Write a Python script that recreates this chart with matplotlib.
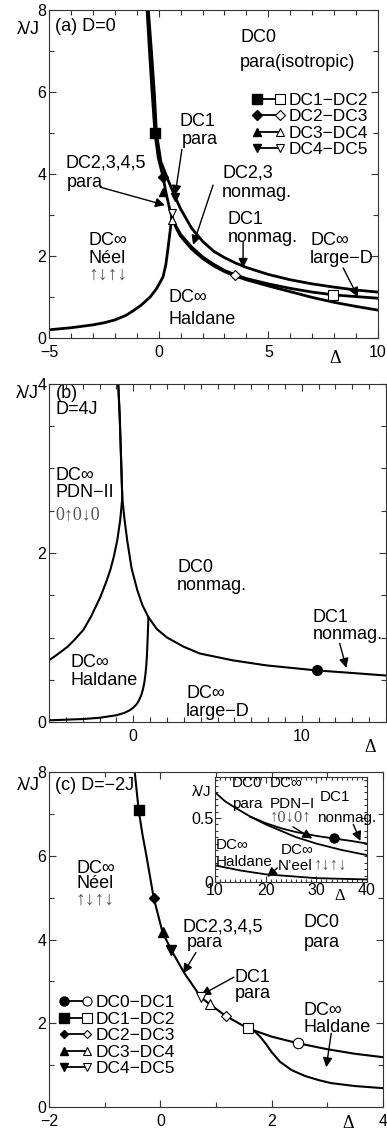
import numpy as np
import matplotlib
matplotlib.use('Agg')
import matplotlib.pyplot as plt
from matplotlib.lines import Line2D
from matplotlib.legend_handler import HandlerBase
from matplotlib.ticker import MultipleLocator, FixedLocator

plt.rcParams['font.family'] = ['Liberation Sans', 'DejaVu Sans']
plt.rcParams['font.size'] = 13
plt.rcParams['axes.linewidth'] = 0.8
plt.rcParams['axes.edgecolor'] = '#333333'

# ---- panel (a) D=0 ----
a_neel_x = [-5, -4, -3, -2.5, -2, -1.5, -1.17, -0.8, -0.39, -0.1, 0.2, 0.33, 0.43, 0.52, 0.6]
a_neel_y = [0.2, 0.25, 0.32, 0.37, 0.44, 0.55, 0.66, 0.8, 1.0, 1.2, 1.49, 1.8, 2.2, 2.6, 2.95]
a_left_x = [-0.53, -0.42, -0.3, -0.17, -0.02, 0.2, 0.35, 0.48, 0.6]
a_left_y = [8.0, 7.0, 6.0, 5.0, 4.4, 3.93, 3.5, 3.2, 2.95]
a_top_x = [-0.47, -0.33, -0.2, -0.1, 0.1, 0.43, 0.75, 1.0, 1.5, 2.0, 2.5, 3.0, 3.5, 4, 5, 6, 7, 8, 9, 10]
a_top_y = [8.0, 7.0, 6.0, 5.0, 4.3, 3.85, 3.44, 3.15, 2.68, 2.36, 2.12, 1.96, 1.83, 1.72, 1.55, 1.42, 1.32, 1.24, 1.17, 1.12]
a_mid_x = [0.6, 0.8, 1.0, 1.5, 2, 2.5, 3, 3.5, 4, 5, 6, 7, 8, 9, 10]
a_mid_y = [2.95, 2.72, 2.53, 2.22, 1.98, 1.8, 1.65, 1.54, 1.45, 1.32, 1.21, 1.12, 1.05, 1.01, 0.97]
a_bot_x = [0.6, 0.8, 1.0, 1.5, 2, 2.5, 3, 3.5, 4, 5, 6, 7, 8, 9, 10]
a_bot_y = [2.95, 2.68, 2.48, 2.17, 1.94, 1.76, 1.62, 1.51, 1.42, 1.27, 1.13, 0.99, 0.87, 0.77, 0.68]

a_labels = ['DC1\u2212DC2', 'DC2\u2212DC3', 'DC3\u2212DC4', 'DC4\u2212DC5']
a_markers = ['s', 'D', '^', 'v']
a_msize = [7, 5, 6, 6]
a_filled_x = [-0.17, 0.2, 0.2, 0.75]
a_filled_y = [5.0, 3.93, 3.56, 3.44]
a_open_x = [7.95, 3.48, 0.6, 0.6]
a_open_y = [1.05, 1.54, 2.88, 3.06]

# ---- panel (b) D=4J ----
b_left_x = [-5, -4.5, -3.9, -3.5, -2.96, -2.5, -1.95, -1.6, -1.36, -1.15, -0.95, -0.78, -0.65, -0.72, -0.8, -0.89]
b_left_y = [0.73, 0.8, 0.89, 0.97, 1.09, 1.25, 1.48, 1.66, 1.8, 1.96, 2.15, 2.38, 2.65, 3.1, 3.6, 4.0]
b_right_x = [-0.89, -0.8, -0.72, -0.65, -0.52, -0.36, -0.1, 0.24, 0.55, 0.9, 1.4, 2.0, 3.0, 3.96, 5.9, 7.9, 10.9, 13, 15]
b_right_y = [4.0, 3.6, 3.1, 2.65, 2.4, 2.15, 1.82, 1.56, 1.38, 1.24, 1.1, 1.0, 0.89, 0.81, 0.73, 0.67, 0.61, 0.58, 0.55]
b_hald_x = [-5, -3, -2, -1, -0.5, -0.2, 0, 0.2, 0.35, 0.48, 0.58, 0.66, 0.72, 0.77, 0.81, 0.84, 0.87, 0.9]
b_hald_y = [0.02, 0.035, 0.05, 0.08, 0.11, 0.14, 0.17, 0.21, 0.26, 0.32, 0.39, 0.47, 0.56, 0.66, 0.78, 0.92, 1.07, 1.24]
b_dot_x = [10.9]
b_dot_y = [0.61]

# ---- panel (c) D=-2J ----
c_main_x = [-0.46, -0.39, -0.32, -0.25, -0.12, 0.04, 0.2, 0.43, 0.73, 0.89, 1.18, 1.57, 2.0, 2.48, 3.0, 3.5, 4.0]
c_main_y = [8.0, 7.1, 6.5, 6.0, 5.0, 4.17, 3.74, 3.2, 2.62, 2.45, 2.17, 1.88, 1.68, 1.52, 1.38, 1.27, 1.19]
c_branch_x = [1.57, 1.7, 1.8, 1.9, 2.0, 2.15, 2.36, 2.6, 2.85, 3.07, 3.5, 4.0]
c_branch_y = [1.88, 1.8, 1.67, 1.5, 1.31, 1.08, 0.88, 0.74, 0.64, 0.57, 0.5, 0.45]

c_labels = ['DC0\u2212DC1', 'DC1\u2212DC2', 'DC2\u2212DC3', 'DC3\u2212DC4', 'DC4\u2212DC5']
c_markers = ['o', 's', 'D', '^', 'v']
c_msize = [7.5, 7.5, 5.5, 6.5, 6.5]
c_filled_x = [np.nan, -0.39, -0.12, 0.04, 0.2]
c_filled_y = [np.nan, 7.1, 5.0, 4.17, 3.74]
c_open_x = [2.48, 1.57, 1.18, 0.89, 0.73]
c_open_y = [1.52, 1.88, 2.17, 2.45, 2.62]

# inset of (c)
i_up_x = [10, 12, 14, 17, 20, 23, 26, 30, 33.4, 37, 40]
i_up_y = [0.70, 0.63, 0.58, 0.51, 0.46, 0.42, 0.39, 0.36, 0.34, 0.32, 0.30]
i_lo_x = [17, 20, 23, 26, 30, 35, 40]
i_lo_y = [0.51, 0.45, 0.40, 0.35, 0.30, 0.25, 0.21]
i_bot_x = [10, 15, 20, 25, 30, 35, 40]
i_bot_y = [0.13, 0.09, 0.06, 0.045, 0.03, 0.025, 0.02]
i_dot_x = [33.4]
i_dot_y = [0.34]

GRAY = '#555555'
SERIF = ['Liberation Serif', 'DejaVu Serif']
TICK = 11.5
SMALL = 11


class FilledOpen(HandlerBase):
    def create_artists(self, legend, orig, xd, yd, width, height, fontsize, trans):
        y = height / 2 - yd
        m = orig.get_marker()
        ms = orig.get_markersize()
        ln = Line2D([-xd, width - xd], [y, y], color='k', lw=1.3)
        f = Line2D([-xd], [y], marker=m, ms=ms, mfc='k', mec='k', ls='')
        o = Line2D([width - xd], [y], marker=m, ms=ms, mfc='w', mec='k', mew=0.8, ls='')
        for art in (ln, f, o):
            art.set_transform(trans)
        return [ln, f, o]


def style(ax, xmaj, xmin, ymaj, ymin):
    ax.xaxis.set_major_locator(FixedLocator(xmaj))
    ax.xaxis.set_minor_locator(MultipleLocator(xmin))
    ax.yaxis.set_major_locator(FixedLocator(ymaj))
    ax.yaxis.set_minor_locator(MultipleLocator(ymin))
    ax.tick_params(which='both', direction='in', top=True, right=True, width=0.8,
                   color='#333333', labelsize=TICK)
    ax.tick_params(axis='x', pad=5)
    ax.tick_params(axis='y', pad=2)
    ax.tick_params(which='major', length=5)
    ax.tick_params(which='minor', length=3.5)


def arrow(ax, tail, tip):
    ax.annotate('', xy=tip, xytext=tail,
                arrowprops=dict(arrowstyle='-|>', color='k', lw=1.0,
                                mutation_scale=14, shrinkA=0, shrinkB=0))


def spins(ax, x, y, s, size=14):
    ax.text(x, y, s, va='center', color=GRAY, family=SERIF, fontsize=size)


def fmt(v):
    return ('%g' % v).replace('-', '\u2212')


fig = plt.figure(figsize=(3.87, 11.31), dpi=100)

# ================= (a) =================
ax = fig.add_axes([49 / 387, 1 - 338 / 1131, 329 / 387, 328 / 1131])
lw = 2.0
ax.plot(a_neel_x, a_neel_y, 'k-', lw=lw)
ax.plot(a_left_x, a_left_y, 'k-', lw=lw)
ax.plot(a_top_x, a_top_y, 'k-', lw=lw)
ax.plot(a_mid_x, a_mid_y, 'k-', lw=lw)
ax.plot(a_bot_x, a_bot_y, 'k-', lw=lw)
handles = []
for lab, m, ms, fx, fy, ox, oy in zip(a_labels, a_markers, a_msize,
                                      a_filled_x, a_filled_y, a_open_x, a_open_y):
    ax.plot([fx], [fy], ls='', marker=m, ms=ms, mfc='k', mec='k', zorder=5)
    ax.plot([ox], [oy], ls='', marker=m, ms=ms, mfc='w', mec='k', mew=0.8, zorder=5)
    handles.append(Line2D([], [], marker=m, ms=ms, color='k', label=lab))
ax.legend(handles=handles, handler_map={Line2D: FilledOpen()}, frameon=False,
          loc='upper left', bbox_to_anchor=(0.607, 0.775), borderpad=0,
          handlelength=1.3, handletextpad=0.5, labelspacing=0.08, fontsize=12.5)
ax.set_xlim(-5, 10)
ax.set_ylim(0, 8)
style(ax, [-5, 0, 5, 10], 1, [0, 2, 4, 6, 8], 1)
ax.set_xticklabels([fmt(v) for v in [-5, 0, 5, 10]])
ax.text(-0.097, 0.94, '\u03bb/J', transform=ax.transAxes, ha='left', va='center')
ax.text(0.87, -0.062, '\u0394', transform=ax.transAxes, ha='center', va='center',
        family=SERIF, fontsize=13)
ax.text(-4.73, 7.59, '(a) D=0', va='center')
ax.text(3.71, 7.32, 'DC0', va='center')
ax.text(3.71, 6.71, 'para(isotropic)', va='center')
ax.text(0.97, 5.27, 'DC1', va='center')
ax.text(1.05, 4.85, 'para', va='center')
ax.text(-4.27, 4.27, 'DC2,3,4,5', va='center')
ax.text(-4.18, 3.80, 'para', va='center')
ax.text(2.89, 4.02, 'DC2,3', va='center')
ax.text(2.89, 3.54, 'nonmag.', va='center')
ax.text(3.16, 2.90, 'DC1', va='center')
ax.text(3.16, 2.46, 'nonmag.', va='center')
ax.text(6.9, 2.37, 'DC\u221e', va='center')
ax.text(6.9, 1.95, 'large\u2212D', va='center')
ax.text(-3.18, 2.37, 'DC\u221e', va='center')
ax.text(-3.18, 1.95, 'N\u00e9el', va='center')
spins(ax, -3.2, 1.54, '\u2191\u2193\u2191\u2193')
ax.text(0.43, 0.98, 'DC\u221e', va='center')
ax.text(0.43, 0.46, 'Haldane', va='center')
arrow(ax, (1.06, 4.6), (0.75, 3.49))
arrow(ax, (-2.67, 3.68), (0.29, 3.24))
arrow(ax, (2.48, 3.73), (1.57, 2.27))
arrow(ax, (3.85, 2.34), (3.85, 1.71))
arrow(ax, (8.41, 1.71), (9.09, 1.0))

# ================= (b) =================
ax = fig.add_axes([49 / 387, 1 - 722 / 1131, 337 / 387, 338 / 1131])
lw = 1.5
ax.plot(b_left_x, b_left_y, 'k-', lw=lw)
ax.plot(b_right_x, b_right_y, 'k-', lw=lw)
ax.plot(b_hald_x, b_hald_y, 'k-', lw=lw)
ax.plot(b_dot_x, b_dot_y, ls='', marker='o', ms=7, color='k', zorder=5)
ax.set_xlim(-5, 15)
ax.set_ylim(0, 4)
style(ax, [0, 10], 1, [0, 2, 4], 0.5)
ax.text(-0.097, 0.973, '\u03bb/J', transform=ax.transAxes, ha='left', va='center')
ax.text(0.953, -0.075, '\u0394', transform=ax.transAxes, ha='center', va='center',
        family=SERIF, fontsize=13)
ax.text(-4.62, 3.89, '(b)', va='center')
ax.text(-4.62, 3.70, 'D=4J', va='center')
ax.text(-4.62, 2.92, 'DC\u221e', va='center')
ax.text(-4.62, 2.72, 'PDN\u2212II', va='center')
spins(ax, -4.62, 2.45, '0\u21910\u21930', 13)
ax.text(2.6, 1.83, 'DC0', va='center')
ax.text(2.6, 1.62, 'nonmag.', va='center')
ax.text(10.65, 1.24, 'DC1', va='center')
ax.text(10.65, 1.04, 'nonmag.', va='center')
ax.text(-3.73, 0.70, 'DC\u221e', va='center')
ax.text(-3.73, 0.49, 'Haldane', va='center')
ax.text(3.14, 0.34, 'DC\u221e', va='center')
ax.text(3.14, 0.13, 'large\u2212D', va='center')
arrow(ax, (12.25, 0.93), (12.65, 0.64))

# ================= (c) =================
ax = fig.add_axes([49 / 387, 1 - 1107 / 1131, 334 / 387, 335 / 1131])
lw = 1.5
ax.plot(c_main_x, c_main_y, 'k-', lw=lw)
ax.plot(c_branch_x, c_branch_y, 'k-', lw=lw)
handles = []
for lab, m, ms, fx, fy, ox, oy in zip(c_labels, c_markers, c_msize,
                                      c_filled_x, c_filled_y, c_open_x, c_open_y):
    ax.plot([fx], [fy], ls='', marker=m, ms=ms, mfc='k', mec='k', zorder=5)
    ax.plot([ox], [oy], ls='', marker=m, ms=ms, mfc='w', mec='k', mew=0.8, zorder=5)
    handles.append(Line2D([], [], marker=m, ms=ms - 1, color='k', label=lab))
ax.legend(handles=handles, handler_map={Line2D: FilledOpen()}, frameon=False,
          loc='upper left', bbox_to_anchor=(0.02, 0.36), borderpad=0,
          handlelength=1.3, handletextpad=0.5, labelspacing=0.08, fontsize=12.5)
ax.set_xlim(-2, 4)
ax.set_ylim(0, 8)
style(ax, [-2, 0, 2, 4], 1, [0, 2, 4, 6, 8], 1)
ax.set_xticklabels([fmt(v) for v in [-2, 0, 2, 4]])
ax.text(-0.097, 0.961, '\u03bb/J', transform=ax.transAxes, ha='left', va='center')
ax.text(0.895, -0.05, '\u0394', transform=ax.transAxes, ha='center', va='center',
        family=SERIF, fontsize=13)
ax.text(-1.89, 7.67, '(c) D=\u22122J', va='center')
ax.text(-1.5, 5.69, 'DC\u221e', va='center')
ax.text(-1.5, 5.33, 'N\u00e9el', va='center')
spins(ax, -1.52, 4.93, '\u2191\u2193\u2191\u2193')
ax.text(0.39, 4.31, 'DC2,3,4,5', va='center')
ax.text(0.48, 3.93, 'para', va='center')
ax.text(2.57, 4.40, 'DC0', va='center')
ax.text(2.57, 3.93, 'para', va='center')
ax.text(1.34, 3.10, 'DC1', va='center')
ax.text(1.34, 2.71, 'para', va='center')
ax.text(2.57, 2.31, 'DC\u221e', va='center')
ax.text(2.57, 1.90, 'Haldane', va='center')
arrow(ax, (0.64, 3.69), (0.41, 3.19))
arrow(ax, (1.32, 3.10), (0.73, 2.67))
arrow(ax, (3.07, 1.76), (2.98, 0.95))

# inset
ai = fig.add_axes([215 / 387, 1 - 882 / 1131, 152 / 387, 105 / 1131])
lw = 1.3
ai.plot(i_up_x, i_up_y, 'k-', lw=lw)
ai.plot(i_lo_x, i_lo_y, 'k-', lw=lw)
ai.plot(i_bot_x, i_bot_y, 'k-', lw=lw)
ai.plot(i_dot_x, i_dot_y, ls='', marker='o', ms=6.5, color='k', zorder=5)
ai.set_xlim(10, 40)
ai.set_ylim(0, 0.82)
style(ai, [10, 20, 30, 40], 1, [0, 0.5], 0.05)
ai.tick_params(which='major', length=4)
ai.tick_params(which='minor', length=2)
ai.tick_params(axis='x', pad=1)
ai.tick_params(axis='y', pad=1)
ai.set_yticklabels(['0', '0.5'])
ai.text(-0.15, 0.86, '\u03bb/J', transform=ai.transAxes, ha='left', va='center',
        fontsize=SMALL)
ai.text(0.82, -0.13, '\u0394', transform=ai.transAxes, ha='center', va='center',
        family=SERIF, fontsize=12)
ai.text(13.4, 0.77, 'DC0', va='center', fontsize=SMALL)
ai.text(20.9, 0.77, 'DC\u221e', va='center', fontsize=SMALL)
ai.text(13.4, 0.61, 'para', va='center', fontsize=SMALL)
ai.text(20.9, 0.61, 'PDN\u2212I', va='center', fontsize=SMALL)
ai.text(30.6, 0.66, 'DC1', va='center', fontsize=SMALL)
ai.text(30.2, 0.50, 'nonmag.', va='center', fontsize=SMALL)
spins(ai, 20.9, 0.50, '\u21910\u21930\u2191', 12)
ai.text(10.2, 0.29, 'DC\u221e', va='center', fontsize=SMALL)
ai.text(10.2, 0.16, 'Haldane', va='center', fontsize=SMALL)
ai.text(22.9, 0.25, 'DC\u221e', va='center', fontsize=SMALL)
ai.text(22.4, 0.125, 'N\u2019eel', va='center', fontsize=SMALL)
spins(ai, 29.5, 0.125, '\u2191\u2193\u2191\u2193', 12)
arrow(ai, (25.4, 0.43), (29.2, 0.34))
arrow(ai, (37.3, 0.45), (38.7, 0.32))
arrow(ai, (22.3, 0.11), (20.3, 0.04))

fig.savefig('out.png', dpi=100)
